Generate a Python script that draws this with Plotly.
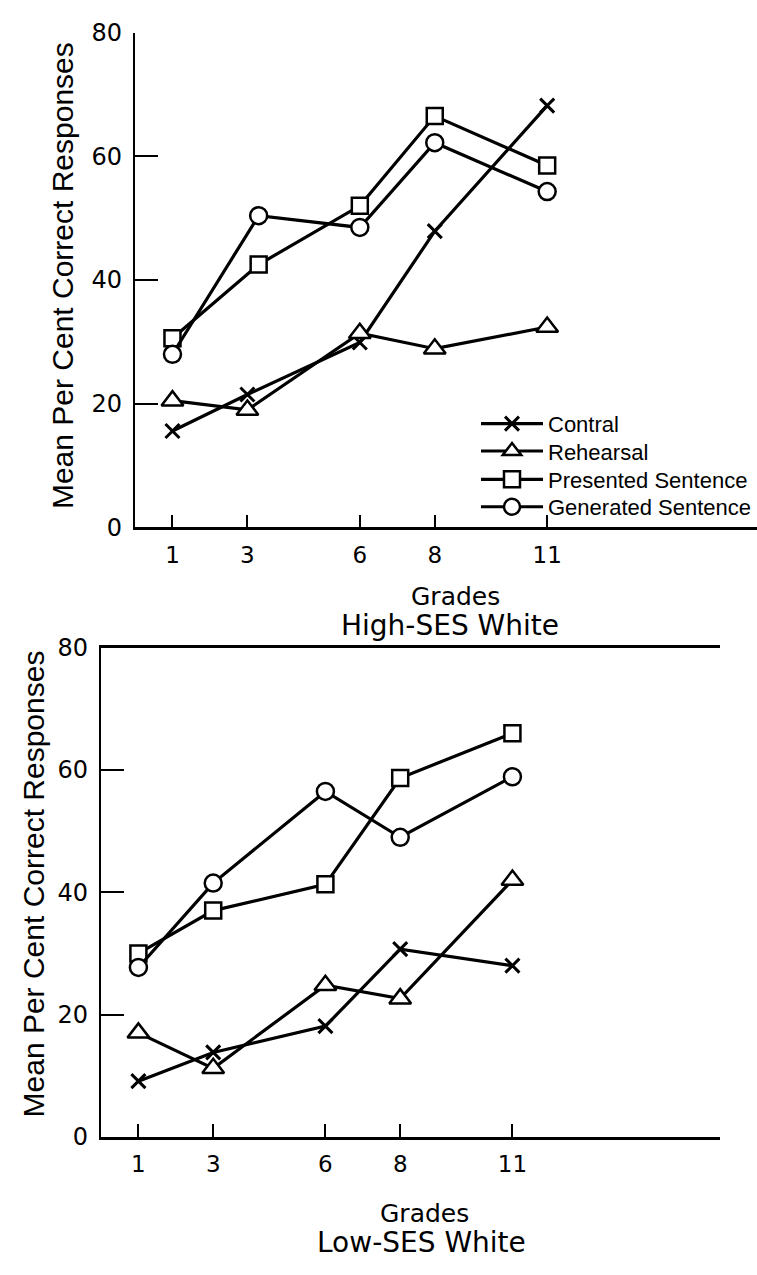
import plotly.graph_objects as go

# ---- data ----
grades = [1, 3, 6, 8, 11]
grade_labels = ["1", "3", "6", "8", "11"]

# High-SES White (top panel)
hi_x_simple = [1, 3, 6, 8, 11]
hi_x_sentence = [1, 3.3, 6, 8, 11]
hi_control = [15.6, 21.5, 29.9, 47.9, 68.2]
hi_rehearsal = [20.5, 19.0, 31.4, 28.9, 32.4]
hi_presented = [30.6, 42.5, 52.0, 66.5, 58.5]
hi_generated = [28.0, 50.4, 48.5, 62.2, 54.3]

# Low-SES White (bottom panel)
lo_x = [1, 3, 6, 8, 11]
lo_control = [9.1, 13.8, 18.1, 30.7, 28.0]
lo_rehearsal = [17.0, 11.2, 24.8, 22.6, 42.0]
lo_presented = [30.0, 37.0, 41.3, 58.7, 66.0]
lo_generated = [27.7, 41.5, 56.5, 49.0, 58.9]

series_names = ["Contral", "Rehearsal", "Presented Sentence", "Generated Sentence"]
y_ticks = [0, 20, 40, 60, 80]
y_tick_labels = ["0", "20", "40", "60", "80"]
y_marks = [20, 40, 60]

FONT = "DejaVu Sans"
NARROW = "Liberation Sans"
W, H = 757, 1275

styles = [
    dict(symbol="x-thin", size=14, color="black", line=dict(width=3, color="black")),
    dict(symbol="triangle-up", size=19, color="white", line=dict(width=2.5, color="black")),
    dict(symbol="square", size=16, color="white", line=dict(width=2.5, color="black")),
    dict(symbol="circle", size=17, color="white", line=dict(width=2.5, color="black")),
]
legend_ids = ["legend", "legend2", "legend3", "legend4"]
legend_rows_px = [419, 447, 476, 504]


def px_x(p):
    return p / W


def px_y(p):
    return 1 - p / H


fig = go.Figure()

top_sets = [(hi_x_simple, hi_control), (hi_x_simple, hi_rehearsal),
            (hi_x_sentence, hi_presented), (hi_x_sentence, hi_generated)]
bot_sets = [(lo_x, lo_control), (lo_x, lo_rehearsal),
            (lo_x, lo_presented), (lo_x, lo_generated)]

for (xs, ys), name, st, lg in zip(top_sets, series_names, styles, legend_ids):
    fig.add_trace(go.Scatter(x=xs, y=ys, mode="lines+markers", name=name,
                             line=dict(color="black", width=3.2),
                             marker=st, xaxis="x", yaxis="y", showlegend=True, legend=lg))
for (xs, ys), name, st in zip(bot_sets, series_names, styles):
    fig.add_trace(go.Scatter(x=xs, y=ys, mode="lines+markers", name=name,
                             line=dict(color="black", width=3.2),
                             marker=st, xaxis="x2", yaxis="y2", showlegend=False))

xcommon = dict(showgrid=False, zeroline=False, showline=True, linecolor="black", linewidth=2.6,
               tickmode="array", tickvals=grades, ticktext=grade_labels,
               ticks="inside", ticklen=13, tickwidth=2, tickcolor="black",
               ticklabelstandoff=5,
               tickfont=dict(family=FONT, size=23, color="black"))
ycommon = dict(showgrid=False, zeroline=False, showline=True, linecolor="black", linewidth=2.2,
               range=[0, 80], tickmode="array", tickvals=y_ticks, ticktext=y_tick_labels,
               ticks="", ticklabelstandoff=6,
               tickfont=dict(family=FONT, size=24, color="black"),
               minor=dict(tickmode="array", tickvals=y_marks, ticks="inside",
                          ticklen=23, tickwidth=2.2, tickcolor="black", showgrid=False))

layout = dict(
    width=W, height=H,
    margin=dict(l=0, r=0, t=0, b=0),
    paper_bgcolor="white", plot_bgcolor="white",
    font=dict(family=FONT, color="black"),
    xaxis=dict(domain=[px_x(135), 1.0], range=[0, 16.6], anchor="y", **xcommon),
    yaxis=dict(domain=[px_y(525), px_y(19)], anchor="x", **ycommon),
    xaxis2=dict(domain=[px_x(101), px_x(720)], range=[0, 16.55], anchor="y2", mirror=True, **xcommon),
    yaxis2=dict(domain=[px_y(1148), px_y(648)], anchor="x2", **ycommon),
    showlegend=True,
)
for lg, row in zip(legend_ids, legend_rows_px):
    layout[lg] = dict(x=px_x(476), y=px_y(row), xanchor="left", yanchor="middle",
                      bgcolor="rgba(0,0,0,0)", borderwidth=0, itemwidth=62,
                      font=dict(family=NARROW, size=22, color="black"))
fig.update_layout(**layout)

ann = [
    dict(text="Grades", x=px_x(455), y=px_y(596), size=25),
    dict(text="High-SES White", x=px_x(450), y=px_y(625), size=28),
    dict(text="Grades", x=px_x(424), y=px_y(1226), size=25),
    dict(text="Low-SES White", x=px_x(422), y=px_y(1256), size=28),
]
for a in ann:
    fig.add_annotation(text=a["text"], x=a["x"], y=a["y"], xref="paper", yref="paper",
                       showarrow=False, xanchor="center", yanchor="middle",
                       font=dict(family=FONT, size=a["size"], color="black"))

for yc, xc in [(268, 62), (890, 33)]:
    fig.add_annotation(text="Mean Per Cent Correct Responses", x=px_x(xc), y=px_y(yc),
                       xref="paper", yref="paper", showarrow=False, textangle=-90,
                       xanchor="center", yanchor="middle",
                       font=dict(family=NARROW, size=30, color="black"))

fig.write_html("out.html", config={"displayModeBar": False},
               post_script="document.body.style.margin='0';")
